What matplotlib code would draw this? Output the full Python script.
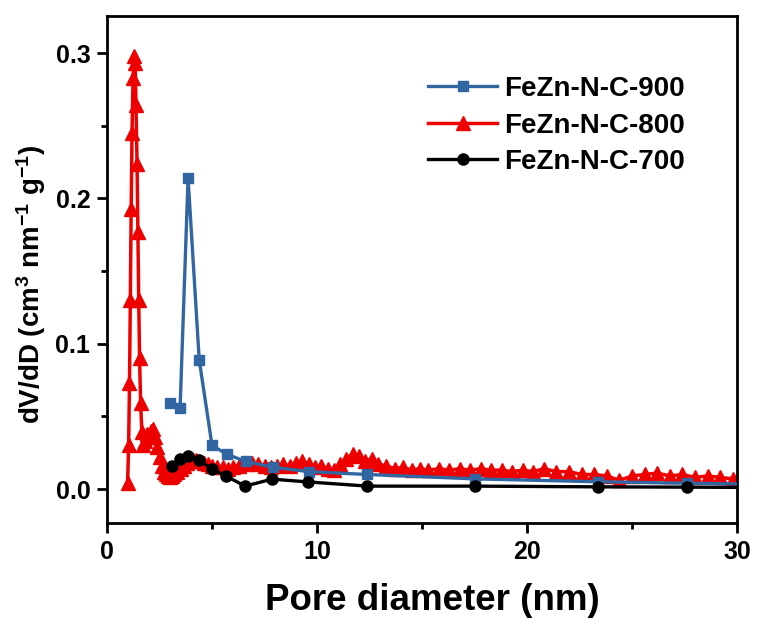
import matplotlib
matplotlib.use("Agg")
from matplotlib import pyplot as plt
from matplotlib.ticker import MultipleLocator, FormatStrFormatter

plt.rcParams['font.family'] = ['Liberation Sans', 'DejaVu Sans']
plt.rcParams['font.weight'] = 'bold'
plt.rcParams['mathtext.fontset'] = 'custom'
plt.rcParams['mathtext.rm'] = 'Liberation Sans:bold'
plt.rcParams['mathtext.bf'] = 'Liberation Sans:bold'
plt.rcParams['mathtext.default'] = 'bf'

# FeZn-N-C-900 (blue squares)
d900 = [3.0, 3.48, 3.86, 4.39, 5.0, 5.7, 6.6, 7.9, 9.6, 12.4, 17.5, 23.4, 27.6, 32.0]
v900 = [0.059, 0.056, 0.214, 0.089, 0.030, 0.024, 0.019, 0.015, 0.012, 0.010,
        0.007, 0.005, 0.004, 0.003]

# FeZn-N-C-800 (red triangles)
d800 = [0.98, 1.03, 1.07, 1.11, 1.15, 1.19, 1.24, 1.29, 1.34, 1.38, 1.43, 1.47,
        1.51, 1.55, 1.6, 1.66, 1.72, 1.8, 1.9, 2.0, 2.1, 2.2, 2.3, 2.4, 2.5, 2.6,
        2.7, 2.8, 2.9, 3.0, 3.1, 3.2, 3.35, 3.5, 3.65, 3.8, 3.95, 4.1, 4.25, 4.4,
        4.6, 4.8, 5.0, 5.25, 5.5, 5.75, 6.0, 6.3, 6.6, 6.9, 7.2, 7.5, 7.8, 8.1,
        8.4, 8.7, 9.0, 9.3, 9.6, 9.9, 10.2, 10.5, 10.8, 11.1, 11.4, 11.7, 12.0,
        12.3, 12.6, 12.9, 13.3, 13.7, 14.1, 14.5, 14.9, 15.3, 15.8, 16.3, 16.8,
        17.3, 17.8, 18.3, 18.8, 19.3, 19.8, 20.3, 20.8, 21.4, 22.0, 22.6, 23.2,
        23.8, 24.4, 25.0, 25.6, 26.2, 26.8, 27.4, 28.0, 28.6, 29.2, 29.8, 30.4]
v800 = [0.004, 0.030, 0.073, 0.130, 0.193, 0.245, 0.283, 0.298, 0.293, 0.264,
        0.224, 0.177, 0.130, 0.090, 0.059, 0.039, 0.030, 0.033, 0.038, 0.036,
        0.040, 0.041, 0.036, 0.029, 0.022, 0.016, 0.012, 0.010, 0.009, 0.008,
        0.009, 0.010, 0.012, 0.014, 0.016, 0.018, 0.019, 0.020, 0.020, 0.019,
        0.018, 0.017, 0.016, 0.015, 0.015, 0.014, 0.015, 0.016, 0.017, 0.018,
        0.017, 0.016, 0.015, 0.016, 0.017, 0.016, 0.018, 0.019, 0.017, 0.015,
        0.016, 0.014, 0.013, 0.017, 0.021, 0.024, 0.023, 0.019, 0.021, 0.017,
        0.016, 0.014, 0.015, 0.013, 0.014, 0.013, 0.014, 0.013, 0.014, 0.013,
        0.014, 0.013, 0.013, 0.012, 0.013, 0.012, 0.014, 0.012, 0.012, 0.010,
        0.010, 0.009, 0.006, 0.009, 0.010, 0.011, 0.009, 0.010, 0.008, 0.009,
        0.008, 0.007, 0.008]

# FeZn-N-C-700 (black circles)
d700 = [3.1, 3.47, 3.87, 4.39, 5.0, 5.67, 6.57, 7.86, 9.57, 12.4, 17.5, 23.4, 27.6, 32.0]
v700 = [0.016, 0.0206, 0.0227, 0.020, 0.0137, 0.009, 0.002, 0.0068, 0.0049,
        0.002, 0.002, 0.0015, 0.0013, 0.001]

fig = plt.figure(figsize=(7.59, 6.26), dpi=100)
ax = fig.add_axes([0.141, 0.1645, 0.83, 0.8095])

ax.plot(d900, v900, color='#3166a3', lw=2.4, marker='s', ms=7, label='FeZn-N-C-900', zorder=3)
ax.plot(d800, v800, color='#ee0000', lw=2.5, marker='^', ms=9.5, label='FeZn-N-C-800', zorder=2)
ax.plot(d700, v700, color='black', lw=2.4, marker='o', ms=8, label='FeZn-N-C-700', zorder=4)

ax.set_xlim(0, 30)
ax.set_ylim(-0.0234, 0.3254)
ax.xaxis.set_major_locator(MultipleLocator(10))
ax.xaxis.set_minor_locator(MultipleLocator(5))
ax.yaxis.set_major_locator(MultipleLocator(0.1))
ax.yaxis.set_minor_locator(MultipleLocator(0.05))
ax.yaxis.set_major_formatter(FormatStrFormatter('%.1f'))

for s in ax.spines.values():
    s.set_linewidth(2)
ax.tick_params(which='major', direction='out', length=7, width=2, labelsize=18, pad=5)
ax.tick_params(which='minor', direction='out', length=4, width=2)

ax.set_xlabel('Pore diameter (nm)', fontsize=26.5, fontweight='bold')
ax.xaxis.set_label_coords(0.516, -0.118)
ax.set_ylabel(r'dV/dD (cm$^{3}$ nm$^{-1}$ g$^{-1}$)', fontsize=20, fontweight='bold')
ax.yaxis.set_label_coords(-0.094, 0.47)

ax.legend(loc='upper left', bbox_to_anchor=(428 / 759, 1 - 76 / 626),
          bbox_transform=fig.transFigure, frameon=False, fontsize=20,
          handlelength=2.5, labelspacing=0.38, handletextpad=0.25, borderpad=0,
          borderaxespad=0)

fig.savefig('out.png', dpi=100)
